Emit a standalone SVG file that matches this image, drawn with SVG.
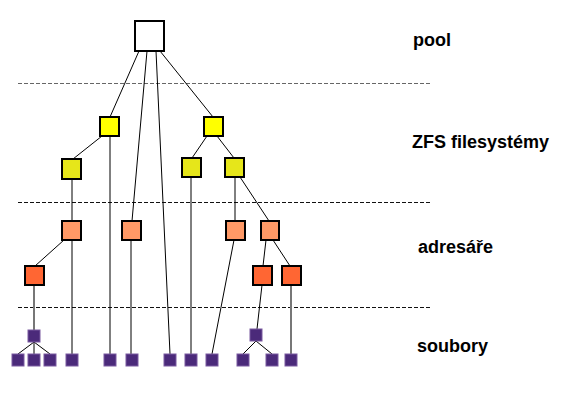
<svg xmlns="http://www.w3.org/2000/svg" width="565" height="411" viewBox="0 0 565 411">
<style>
.b{stroke:#000;stroke-width:2}
.y1{fill:#ffff00}.y2{fill:#e6e61a}.o1{fill:#ff9966}.o2{fill:#ff6633}
.p{fill:#4b2a7a;stroke:#7a5aa0;stroke-width:1}
.c line{stroke:#000;stroke-width:1}
.c line.g{stroke:#777;stroke-width:2}
.d{stroke-dasharray:4,2;stroke-width:1}
.t{font-family:"Liberation Sans",Arial,sans-serif;font-weight:bold;font-size:18px;fill:#000}
</style>
<rect width="565" height="411" fill="#fff"/>
<g id="levels">
<line class="d" x1="18" y1="83.5" x2="430" y2="83.5" stroke="#666"/>
<line class="d" x1="18" y1="202.5" x2="430" y2="202.5" stroke="#111"/>
<line class="d" x1="18" y1="307.5" x2="430" y2="307.5" stroke="#111"/>
</g>
<g id="connectors" class="c">
<line x1="139" y1="51" x2="110" y2="117"/>
<line x1="147" y1="51" x2="132" y2="221"/>
<line x1="156" y1="51" x2="170" y2="354"/>
<line x1="160" y1="51" x2="213" y2="117"/>
<line x1="102" y1="136" x2="73" y2="159"/>
<line x1="110" y1="136" x2="110" y2="354"/>
<line x1="72" y1="179" x2="72" y2="221"/>
<line x1="207" y1="136" x2="192" y2="158"/>
<line x1="217" y1="136" x2="234" y2="158"/>
<line x1="191" y1="177" x2="191" y2="354"/>
<line x1="235" y1="177" x2="235" y2="221"/>
<line x1="240" y1="177" x2="269" y2="221"/>
<line x1="64" y1="240" x2="35" y2="266"/>
<line x1="72" y1="240" x2="72" y2="354"/>
<line x1="131" y1="240" x2="131" y2="354"/>
<line x1="234" y1="240" x2="212" y2="354"/>
<line x1="266" y1="240" x2="263" y2="266"/>
<line x1="273" y1="240" x2="290" y2="266"/>
<line class="g" x1="34" y1="285" x2="34" y2="330"/>
<line x1="262" y1="285" x2="257" y2="329"/>
<line class="g" x1="291" y1="285" x2="291" y2="354"/>
<line x1="34" y1="342" x2="18" y2="354"/>
<line x1="34" y1="342" x2="34" y2="354"/>
<line x1="34" y1="342" x2="50" y2="354"/>
<line x1="256" y1="341" x2="243" y2="354"/>
<line x1="256" y1="341" x2="272" y2="354"/>
</g>
<g id="pool"><rect class="b" x="135" y="21" width="29" height="30" fill="#fff" stroke-width="2.5"/></g>
<g id="fs1"><rect class="b y1" x="100" y="117" width="19" height="19"/></g>
<g id="fs2"><rect class="b y1" x="204" y="117" width="19" height="19"/></g>
<g id="fs3"><rect class="b y2" x="62" y="159" width="19" height="20"/></g>
<g id="fs4"><rect class="b y2" x="182" y="158" width="19" height="19"/></g>
<g id="fs5"><rect class="b y2" x="225" y="158" width="19" height="19"/></g>
<g id="dir1"><rect class="b o1" x="62" y="221" width="19" height="19"/></g>
<g id="dir2"><rect class="b o1" x="122" y="221" width="19" height="19"/></g>
<g id="dir3"><rect class="b o1" x="226" y="221" width="19" height="19"/></g>
<g id="dir4"><rect class="b o1" x="261" y="221" width="18" height="19"/></g>
<g id="dir5"><rect class="b o2" x="25" y="266" width="19" height="19"/></g>
<g id="dir6"><rect class="b o2" x="253" y="266" width="19" height="19"/></g>
<g id="dir7"><rect class="b o2" x="282" y="266" width="19" height="19"/></g>
<g id="sub1"><rect class="p" x="28" y="330" width="12" height="12"/></g>
<g id="sub2"><rect class="p" x="250" y="329" width="12" height="12"/></g>
<g id="f1"><rect class="p" x="12" y="354" width="12" height="12"/></g>
<g id="f2"><rect class="p" x="28" y="354" width="12" height="12"/></g>
<g id="f3"><rect class="p" x="44" y="354" width="12" height="12"/></g>
<g id="f4"><rect class="p" x="66" y="354" width="12" height="12"/></g>
<g id="f5"><rect class="p" x="104" y="354" width="12" height="12"/></g>
<g id="f6"><rect class="p" x="126" y="354" width="12" height="12"/></g>
<g id="f7"><rect class="p" x="164" y="354" width="12" height="12"/></g>
<g id="f8"><rect class="p" x="185" y="354" width="12" height="12"/></g>
<g id="f9"><rect class="p" x="206" y="354" width="12" height="12"/></g>
<g id="f10"><rect class="p" x="237" y="354" width="12" height="12"/></g>
<g id="f11"><rect class="p" x="266" y="354" width="12" height="12"/></g>
<g id="f12"><rect class="p" x="285" y="354" width="12" height="12"/></g>
<g id="labels">
<text class="t" x="413" y="46">pool</text>
<text class="t" x="412" y="148">ZFS filesystémy</text>
<text class="t" x="418" y="253">adresáře</text>
<text class="t" x="417" y="352">soubory</text>
</g>
</svg>
